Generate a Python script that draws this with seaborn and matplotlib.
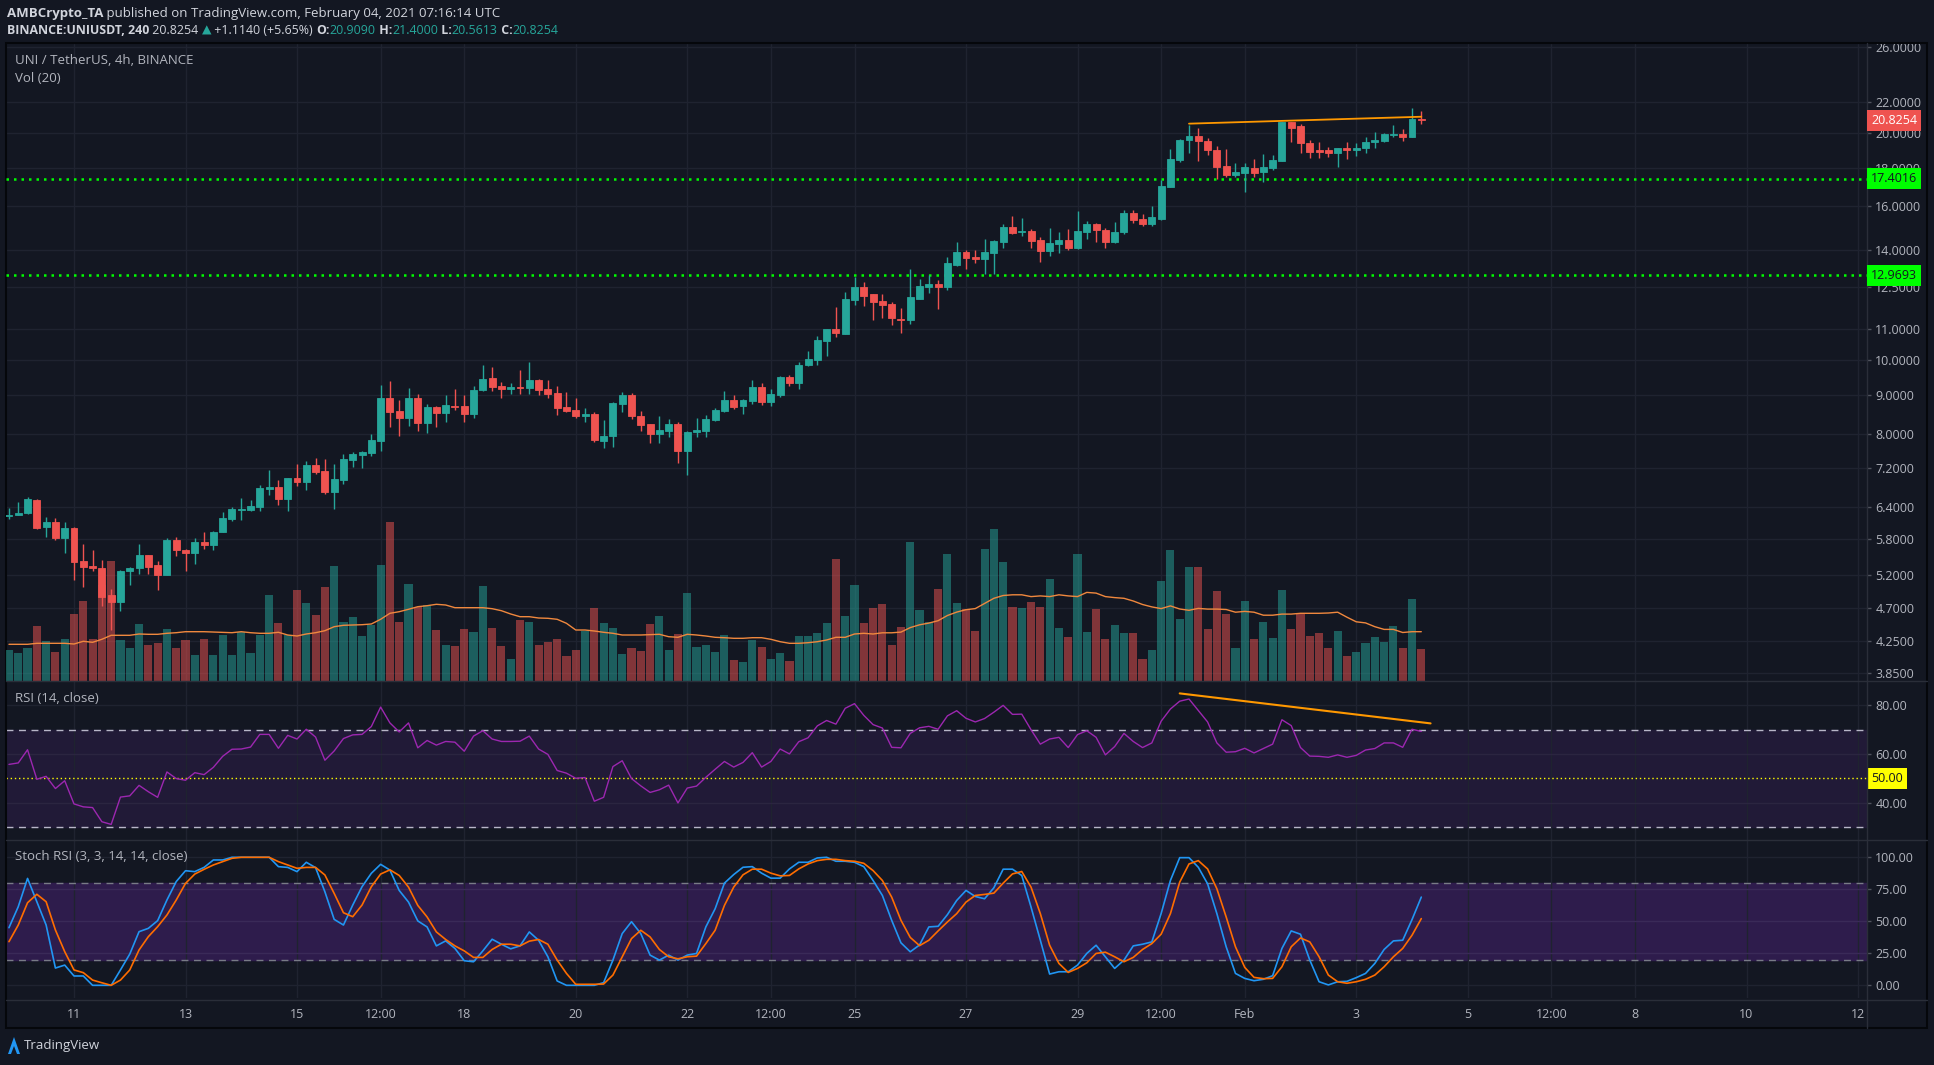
import matplotlib
matplotlib.use("Agg")
import matplotlib.pyplot as plt
import matplotlib.dates as mdates
import matplotlib.transforms as mtransforms
from matplotlib.patches import Rectangle, Polygon
from matplotlib.lines import Line2D
from matplotlib.ticker import NullLocator
import numpy as np
import pandas as pd
import seaborn as sns

# ---- data (4h candles, UNI/USDT) ----
start_time = "2021-01-09 20:00"

opens = [6.22, 6.24, 6.27, 6.53, 6.01, 6.11, 5.82, 6.00, 5.42, 5.34,
         5.31, 4.89, 4.78, 5.26, 5.30, 5.52, 5.36, 5.20, 5.78, 5.61,
         5.55, 5.75, 5.70, 5.92, 6.17, 6.34, 6.34, 6.40, 6.76, 6.80,
         6.56, 6.99, 6.89, 7.27, 7.14, 6.70, 6.94, 7.38, 7.50, 7.55,
         7.83, 8.92, 8.57, 8.40, 8.92, 8.27, 8.68, 8.52, 8.70, 8.70,
         8.48, 9.14, 9.48, 9.25, 9.17, 9.22, 9.19, 9.42, 9.17, 9.06,
         8.68, 8.60, 8.44, 8.49, 7.82, 7.94, 8.76, 9.00, 8.44, 8.24,
         7.99, 8.06, 8.24, 7.59, 8.04, 8.06, 8.34, 8.57, 8.86, 8.70,
         8.84, 9.22, 8.81, 9.00, 9.51, 9.34, 9.86, 10.01, 10.61, 11.01,
         10.85, 12.03, 12.52, 12.23, 12.00, 11.89, 11.36, 11.33, 12.08, 12.50,
         12.64, 12.50, 13.39, 13.93, 13.71, 13.61, 13.86, 14.36, 15.03, 14.78,
         14.85, 14.45, 13.98, 14.27, 14.45, 14.09, 14.80, 15.17, 14.90, 14.36,
         14.80, 15.69, 15.41, 15.17, 15.41, 16.98, 18.45, 19.58, 19.85, 19.56,
         19.00, 18.10, 17.62, 17.72, 18.00, 17.78, 18.00, 18.40, 20.69, 20.47,
         19.43, 18.99, 18.99, 18.86, 19.10, 18.99, 19.10, 19.47, 19.55, 19.92,
         19.96, 19.80, 20.909]

highs = [6.37, 6.49, 6.59, 6.55, 6.20, 6.18, 6.11, 6.02, 5.71, 5.61,
         5.44, 4.98, 5.27, 5.33, 5.71, 5.52, 5.42, 5.81, 5.83, 5.62,
         5.81, 5.93, 5.94, 6.29, 6.39, 6.57, 6.53, 6.83, 7.16, 6.94,
         6.99, 7.29, 7.36, 7.43, 7.41, 7.30, 7.52, 7.56, 7.59, 7.99,
         9.28, 9.39, 8.86, 9.19, 9.03, 8.76, 8.70, 9.00, 9.17, 9.00,
         9.25, 9.87, 9.81, 9.37, 9.34, 9.71, 9.95, 9.45, 9.42, 9.25,
         9.08, 8.92, 8.65, 8.55, 8.34, 8.81, 9.08, 9.06, 8.57, 8.24,
         8.44, 8.36, 8.29, 8.06, 8.39, 8.47, 8.65, 9.11, 9.00, 8.89,
         9.42, 9.34, 9.17, 9.54, 9.57, 9.95, 10.29, 10.78, 11.01, 11.77,
         12.33, 12.91, 12.71, 12.25, 12.25, 11.96, 11.74, 13.22, 12.82, 12.98,
         12.80, 13.70, 14.36, 14.02, 14.00, 14.50, 14.43, 15.17, 15.53, 15.45,
         14.94, 14.57, 14.99, 14.80, 14.94, 15.78, 15.32, 15.22, 14.99, 15.27,
         15.83, 15.83, 15.64, 16.03, 17.35, 19.05, 19.68, 20.53, 20.31, 19.72,
         19.23, 19.07, 18.28, 18.25, 18.50, 18.78, 18.71, 20.69, 20.69, 20.59,
         19.61, 19.45, 19.17, 19.10, 19.45, 19.41, 19.79, 20.07, 20.01, 20.52,
         20.27, 21.61, 21.40]

lows = [6.16, 6.23, 6.25, 5.98, 5.84, 5.78, 5.55, 5.11, 5.01, 5.26,
        4.73, 4.39, 4.66, 5.04, 5.21, 5.21, 4.97, 5.20, 5.50, 5.26,
        5.38, 5.63, 5.61, 5.92, 6.12, 6.15, 6.32, 6.32, 6.63, 6.44,
        6.32, 6.81, 6.74, 7.07, 6.66, 6.36, 6.86, 7.23, 7.20, 7.46,
        7.59, 8.17, 7.95, 8.19, 8.07, 8.02, 8.17, 8.29, 8.60, 8.29,
        8.40, 9.11, 9.11, 8.92, 9.03, 9.03, 9.03, 9.00, 8.92, 8.46,
        8.55, 8.40, 8.29, 7.80, 7.66, 7.68, 8.55, 8.36, 8.06, 7.77,
        7.77, 7.92, 7.31, 7.05, 7.92, 7.92, 8.31, 8.55, 8.63, 8.49,
        8.76, 8.73, 8.70, 8.95, 9.25, 9.17, 9.83, 9.86, 10.13, 10.75,
        10.85, 11.85, 11.81, 11.32, 11.37, 11.13, 10.89, 11.17, 12.08, 12.29,
        11.71, 12.39, 13.35, 13.23, 13.45, 13.02, 13.02, 14.11, 14.71, 14.64,
        14.11, 13.51, 13.76, 13.88, 14.00, 14.06, 14.50, 14.36, 14.09, 14.31,
        14.72, 15.19, 15.08, 15.07, 15.36, 16.98, 18.31, 18.83, 18.40, 18.71,
        17.41, 17.48, 17.48, 16.72, 17.48, 17.25, 17.89, 18.40, 19.46, 18.86,
        18.55, 18.55, 18.61, 18.02, 18.50, 18.67, 18.86, 19.10, 19.47, 19.80,
        19.53, 19.80, 20.5613]

closes = [6.24, 6.27, 6.55, 6.00, 6.11, 5.82, 6.00, 5.41, 5.33, 5.30,
          4.86, 4.78, 5.26, 5.30, 5.52, 5.33, 5.20, 5.78, 5.60, 5.55,
          5.75, 5.70, 5.93, 6.18, 6.35, 6.35, 6.41, 6.78, 6.80, 6.56,
          6.99, 6.89, 7.27, 7.12, 6.70, 6.96, 7.40, 7.52, 7.56, 7.85,
          8.92, 8.55, 8.40, 8.92, 8.27, 8.68, 8.52, 8.73, 8.68, 8.48,
          9.14, 9.45, 9.22, 9.17, 9.22, 9.19, 9.42, 9.14, 9.03, 8.65,
          8.57, 8.44, 8.49, 7.85, 7.94, 8.78, 9.00, 8.44, 8.21, 7.99,
          8.09, 8.24, 7.59, 8.04, 8.09, 8.36, 8.60, 8.86, 8.68, 8.86,
          9.22, 8.81, 9.03, 9.51, 9.34, 9.86, 10.04, 10.65, 11.01, 10.88,
          12.07, 12.52, 12.18, 11.96, 11.85, 11.37, 11.33, 12.14, 12.56, 12.64,
          12.50, 13.46, 13.93, 13.68, 13.61, 13.93, 14.40, 15.03, 14.76, 14.85,
          14.40, 13.98, 14.31, 14.45, 14.09, 14.85, 15.17, 14.90, 14.36, 14.80,
          15.69, 15.36, 15.17, 15.50, 17.04, 18.48, 19.61, 19.85, 19.53, 18.99,
          18.06, 17.62, 17.78, 18.06, 17.72, 18.06, 18.42, 20.69, 20.31, 19.43,
          18.92, 18.92, 18.86, 19.10, 18.99, 19.10, 19.48, 19.59, 19.94, 19.96,
          19.75, 20.90, 20.8254]

# volume in arbitrary units (bar height)
volume = [31, 28, 33, 55, 40, 29, 42, 67, 80, 42,
          96, 120, 41, 33, 57, 36, 38, 52, 33, 41,
          26, 42, 26, 46, 26, 49, 28, 46, 86, 58,
          46, 91, 78, 66, 94, 115, 59, 64, 45, 56,
          116, 159, 59, 97, 74, 76, 51, 36, 35, 52,
          49, 95, 53, 35, 22, 61, 59, 36, 39, 42,
          25, 31, 50, 73, 58, 53, 27, 33, 30, 57,
          65, 31, 47, 88, 34, 36, 29, 46, 21, 19,
          41, 34, 22, 28, 20, 45, 45, 48, 58, 122,
          65, 96, 58, 73, 77, 36, 54, 139, 71, 59,
          92, 127, 78, 72, 50, 132, 152, 119, 74, 73,
          79, 74, 102, 53, 44, 127, 49, 72, 42, 56,
          48, 48, 22, 31, 100, 131, 62, 114, 114, 52,
          90, 67, 33, 80, 42, 59, 43, 91, 52, 68,
          45, 48, 33, 50, 25, 29, 38, 44, 39, 55,
          33, 82, 32]

volume_ma = [36.7, 36.7, 36.7, 37.7, 37.7, 37.7, 37.7, 37.0, 39.7, 38.7,
             41.7, 45.7, 45.7, 45.7, 47.0, 46.7, 46.7, 47.7, 48.3, 49.3,
             49.3, 49.3, 49.0, 48.7, 48.3, 49.3, 48.3, 47.7, 47.7, 48.7,
             46.0, 45.0, 47.0, 48.3, 50.3, 54.3, 55.7, 56.0, 56.3, 57.0,
             61.7, 67.7, 69.3, 71.7, 74.3, 75.3, 76.7, 76.0, 73.3, 73.3,
             73.3, 73.3, 72.3, 70.3, 67.0, 64.3, 64.3, 63.0, 62.7, 61.7,
             57.7, 51.0, 51.0, 50.0, 48.7, 47.7, 46.0, 46.0, 46.0, 46.3,
             46.7, 44.3, 43.7, 46.7, 46.0, 45.0, 43.7, 43.3, 42.7, 42.7,
             43.3, 43.3, 41.7, 39.3, 37.7, 37.7, 38.3, 39.3, 41.0, 43.7,
             43.7, 47.0, 47.7, 47.0, 48.2, 48.2, 48.9, 53.4, 56.2, 57.9,
             60.3, 65.5, 68.9, 71.3, 72.4, 77.6, 82.7, 85.5, 86.2, 86.2,
             84.4, 85.1, 84.4, 86.2, 85.1, 84.4, 88.6, 87.9, 84.4, 83.4,
             82.7, 80.0, 76.5, 74.1, 72.4, 75.1, 72.0, 70.7, 72.6, 71.9,
             71.9, 71.5, 68.8, 69.6, 68.8, 65.8, 65.8, 66.9, 66.9, 67.7,
             67.7, 67.7, 68.0, 68.8, 63.8, 59.2, 58.1, 54.3, 51.6, 51.6,
             48.5, 49.3, 49.3]

rsi = [55.7, 56.3, 61.7, 49.6, 50.8, 45.8, 49.0, 39.5, 38.3, 38.0,
       32.2, 31.1, 42.3, 42.8, 47.1, 44.5, 42.2, 52.6, 49.9, 49.2,
       52.3, 51.5, 54.5, 59.0, 61.9, 62.0, 62.8, 68.0, 68.0, 62.3,
       67.6, 66.1, 70.1, 66.9, 57.4, 61.2, 66.3, 67.8, 68.0, 71.2,
       79.2, 72.7, 69.0, 72.7, 62.5, 65.5, 63.6, 65.1, 64.8, 61.1,
       67.3, 69.5, 66.1, 65.1, 65.1, 65.2, 67.3, 62.0, 59.8, 53.2,
       52.1, 50.0, 50.3, 40.6, 42.2, 54.8, 57.2, 49.9, 46.9, 44.2,
       45.3, 47.2, 39.9, 46.0, 46.8, 50.4, 53.7, 56.9, 54.6, 56.5,
       60.5, 54.6, 56.9, 62.0, 60.0, 65.0, 66.6, 71.5, 73.7, 72.2,
       78.7, 80.6, 75.8, 72.0, 70.6, 62.7, 62.5, 68.4, 70.7, 71.3,
       70.1, 75.6, 77.7, 74.6, 73.1, 74.5, 77.1, 79.9, 76.2, 76.3,
       69.9, 64.0, 66.1, 66.8, 62.6, 67.9, 69.5, 66.8, 59.6, 63.0,
       68.4, 65.1, 62.6, 64.5, 73.4, 78.4, 81.6, 82.5, 77.8, 73.1,
       64.5, 60.7, 60.9, 62.3, 60.4, 62.2, 64.0, 74.0, 71.6, 62.6,
       59.1, 59.0, 58.6, 59.6, 58.6, 59.4, 61.6, 62.2, 64.5, 64.5,
       62.7, 70.1, 69.2]

stoch_k = [45.0, 61.4, 83.5, 65.3, 47.1, 13.5, 15.8, 7.3, 7.3, 0.0,
           0.0, 0.0, 12.0, 24.4, 41.9, 44.5, 50.5, 66.6, 81.0, 89.5,
           88.8, 92.1, 97.9, 97.9, 100.0, 100.0, 100.0, 100.0, 100.0, 92.7,
           92.1, 88.8, 96.1, 91.9, 73.1, 51.5, 47.1, 62.7, 77.0, 87.5,
           94.5, 90.0, 74.1, 65.0, 50.3, 45.6, 30.8, 34.7, 28.8, 19.2,
           18.4, 26.9, 36.0, 32.1, 28.5, 30.8, 41.7, 35.2, 22.3, 3.4,
           0.0, 0.0, 0.0, 0.0, 2.1, 19.7, 40.4, 49.7, 40.4, 23.6,
           19.7, 23.6, 19.7, 23.6, 24.9, 45.6, 59.8, 79.8, 86.5, 92.2,
           92.7, 87.6, 83.7, 83.7, 90.9, 96.1, 96.1, 99.5, 100.0, 96.9,
           96.9, 96.1, 92.7, 81.9, 70.2, 50.8, 33.2, 26.2, 31.5, 45.6,
           46.1, 55.2, 66.3, 74.1, 69.4, 67.6, 76.2, 90.7, 90.7, 85.8,
           61.1, 35.2, 8.8, 10.6, 10.6, 15.8, 24.9, 31.3, 22.3, 13.2,
           19.7, 30.8, 32.1, 33.9, 56.0, 81.9, 99.7, 99.7, 92.2, 79.3,
           56.0, 30.1, 9.3, 5.4, 3.6, 4.7, 7.5, 28.8, 42.5, 39.9,
           19.7, 2.8, 0.3, 2.8, 3.1, 6.0, 9.3, 17.1, 28.0, 34.7,
           35.2, 51.3, 68.9]

stoch_d = [34.1, 47.1, 64.5, 71.1, 65.3, 43.2, 26.3, 12.0, 9.9, 4.1,
           2.0, 0.0, 4.1, 12.0, 27.6, 38.0, 45.8, 54.9, 66.6, 79.6,
           86.9, 90.6, 94.0, 96.6, 99.2, 100.0, 100.0, 100.0, 100.0, 96.6,
           94.0, 91.4, 92.1, 92.1, 86.2, 71.8, 56.7, 53.6, 62.7, 77.0,
           86.9, 90.2, 85.8, 76.7, 62.4, 53.4, 41.7, 35.8, 30.8, 26.9,
           21.8, 21.8, 28.0, 32.1, 32.1, 30.8, 34.5, 35.8, 32.1, 19.7,
           9.3, 0.8, 0.8, 0.8, 1.0, 8.0, 22.3, 36.5, 43.0, 37.8,
           28.0, 22.3, 20.7, 22.3, 22.8, 32.6, 43.0, 62.4, 76.7, 86.3,
           90.7, 90.7, 87.6, 85.5, 85.8, 90.9, 94.8, 97.4, 98.4, 98.4,
           97.4, 96.9, 95.3, 89.6, 81.9, 68.9, 50.8, 37.4, 31.0, 35.2,
           42.5, 49.5, 56.0, 65.0, 70.2, 71.0, 72.0, 79.8, 87.0, 88.9,
           76.7, 56.0, 31.3, 17.1, 10.1, 13.2, 17.6, 24.9, 25.9, 22.3,
           18.4, 21.8, 28.0, 32.6, 39.9, 56.0, 80.6, 94.8, 97.4, 90.9,
           75.4, 53.4, 30.1, 14.0, 6.2, 5.2, 5.4, 14.5, 30.1, 37.0,
           33.9, 22.3, 8.0, 2.8, 1.6, 2.8, 4.7, 8.0, 14.5, 22.3,
           28.8, 39.1, 52.1]

price_ticks = [3.85, 4.25, 4.7, 5.2, 5.8, 6.4, 7.2, 8.0, 9.0, 10.0, 11.0,
               12.5, 14.0, 16.0, 18.0, 20.0, 22.0, 26.0]
support_levels = [17.4016, 12.9693]
last_price = 20.8254
price_trend_times = ["2021-01-31 00:00", "2021-02-04 04:00"]
price_trend_values = [20.60, 21.04]
rsi_trend_times = ["2021-01-30 20:00", "2021-02-04 08:00"]
rsi_trend_values = [84.8, 72.5]
time_ticks = ["2021-01-11 00:00", "2021-01-13 00:00", "2021-01-15 00:00",
              "2021-01-16 12:00", "2021-01-18 00:00", "2021-01-20 00:00",
              "2021-01-22 00:00", "2021-01-23 12:00", "2021-01-25 00:00",
              "2021-01-27 00:00", "2021-01-29 00:00", "2021-01-30 12:00",
              "2021-02-01 00:00", "2021-02-03 00:00", "2021-02-05 00:00",
              "2021-02-06 12:00", "2021-02-08 00:00", "2021-02-10 00:00",
              "2021-02-12 00:00"]
time_labels = ["11", "13", "15", "12:00", "18", "20", "22", "12:00", "25",
               "27", "29", "12:00", "Feb", "3", "5", "12:00", "8", "10", "12"]

# ---- style ----
BG = "#131722"
GRID = "#1f2330"
SEP = "#2a2e39"
TEXT = "#b2b5be"
HEAD = "#d1d4dc"
UP = "#26a69a"
DOWN = "#ef5350"

sns.set_style("dark")
plt.rcParams["font.family"] = ["Open Sans", "DejaVu Sans"]

W, H = 1934, 1065
fig = plt.figure(figsize=(W / 100, H / 100), dpi=100, facecolor=BG)


def rect(x0, y0, x1, y1):
    return [x0 / W, 1 - y1 / H, (x1 - x0) / W, (y1 - y0) / H]


PL, PR = 6, 1867
PT, P1, P2, PB = 44, 681, 840, 998

times = pd.date_range(start_time, periods=len(closes), freq="4h")
x = mdates.date2num(times)
day11 = mdates.date2num(pd.Timestamp("2021-01-11"))
px_day = 55.75
xlim = (day11 + (PL - 74) / px_day, day11 + (PR - 74) / px_day)
tick_x = mdates.date2num(pd.to_datetime(time_ticks, format="%Y-%m-%d %H:%M"))

ax_bg = fig.add_axes(rect(PL, PT, PR, P1))
ax_vol = ax_bg.twinx()
ax_c = ax_bg.twinx()
ax_rsi = fig.add_axes(rect(PL, P1, PR, P2))
ax_st = fig.add_axes(rect(PL, P2, PR, PB))

for ax in (ax_bg, ax_vol, ax_c, ax_rsi, ax_st):
    for s in ax.spines.values():
        s.set_visible(False)
    ax.set_xlim(xlim)
    ax.grid(False)
for ax in (ax_bg, ax_rsi, ax_st):
    ax.set_facecolor(BG)
for t in tick_x:
    ax_bg.axvline(t, color=GRID, lw=1, zorder=0)

ax_bg.set_zorder(0)
ax_vol.set_zorder(1)
ax_c.set_zorder(2)

# price scale
lo_p, hi_p = 3.759, 26.27
for ax in (ax_bg, ax_c):
    ax.set_yscale("log")
    ax.set_ylim(lo_p, hi_p)
    ax.yaxis.set_minor_locator(NullLocator())
ax_bg.yaxis.tick_right()
ax_bg.set_yticks(price_ticks)
ax_bg.set_yticklabels([f"{p:.4f}" for p in price_ticks])
for p in price_ticks:
    ax_bg.axhline(p, color=GRID, lw=1, zorder=0)
ax_c.yaxis.set_major_locator(NullLocator())
ax_c.tick_params(right=False, labelright=False, bottom=False, labelbottom=False)
ax_vol.set_yticks([])
ax_vol.tick_params(right=False, labelright=False)

for ax in (ax_bg, ax_rsi, ax_st):
    ax.tick_params(axis="y", colors=TEXT, labelsize=9, length=3, width=1,
                   pad=3, left=False, labelleft=False, right=True,
                   labelright=True)
    ax.tick_params(axis="y", color="#50535e")
    ax.tick_params(axis="x", bottom=False, labelbottom=False)

# volume
colors = [UP if c >= o else DOWN for o, c in zip(opens, closes)]
ax_vol.bar(x, volume, width=0.145, color=colors, alpha=0.5, linewidth=0)
ax_vol.set_ylim(0, P1 - PT)
vol_df = pd.DataFrame({"t": x, "ma": volume_ma})
sns.lineplot(data=vol_df, x="t", y="ma", ax=ax_vol, color="#f0883e", lw=1)
ax_vol.set_xlim(xlim)
ax_vol.set_xlabel("")
ax_vol.set_ylabel("")

# candles
ax_c.vlines(x, lows, highs, colors=colors, lw=1, zorder=3)
bottoms = np.minimum(opens, closes)
heights = np.abs(np.array(closes) - np.array(opens))
ax_c.bar(x, heights, bottom=bottoms, width=0.125, color=colors,
         edgecolor=colors, linewidth=0.6, zorder=4)
for lvl in support_levels:
    ax_c.axhline(lvl, color="#00ff00", lw=1.8, ls=(0, (1, 2)), zorder=2)
ax_c.plot(mdates.date2num(pd.to_datetime(price_trend_times)),
          price_trend_values, color="#ff9800", lw=1.3, zorder=5)
ax_c.set_xlim(xlim)

lbl_x = (1871 - PL) / (PR - PL)
trans_c = mtransforms.blended_transform_factory(ax_c.transAxes, ax_c.transData)
for lvl in support_levels:
    ax_c.text(lbl_x, lvl, f"{lvl:.4f}", transform=trans_c, ha="left",
              va="center", color="#131722", fontsize=9, clip_on=False,
              zorder=10, bbox=dict(boxstyle="square,pad=0.32", fc="#00ff00",
                                   ec="none"))
ax_c.text(lbl_x, last_price, f"{last_price:.4f}", transform=trans_c,
          ha="left", va="center", color="white", fontsize=9, clip_on=False,
          zorder=10, bbox=dict(boxstyle="square,pad=0.32", fc=DOWN, ec="none"))

# RSI
r_lo, r_hi = 24.71, 89.88
ax_rsi.set_ylim(r_lo, r_hi)
ax_rsi.axhspan(30, 70, color="#211a37", zorder=0)
for t in tick_x:
    ax_rsi.axvline(t, color=GRID, lw=1, zorder=0.2)
for v in (40, 60, 80):
    ax_rsi.axhline(v, color="#2b2540" if v < 70 else GRID, lw=1, zorder=0.6)
ax_rsi.axhline(70, color="#b8b6c8", lw=1, ls=(0, (5, 4)), zorder=1)
ax_rsi.axhline(30, color="#b8b6c8", lw=1, ls=(0, (5, 4)), zorder=1)
ax_rsi.axhline(50, color="#ffff00", lw=1, ls=(0, (1, 2)), zorder=1)
rsi_df = pd.DataFrame({"t": x, "rsi": rsi})
sns.lineplot(data=rsi_df, x="t", y="rsi", ax=ax_rsi, color="#9c27b0", lw=1)
ax_rsi.plot(mdates.date2num(pd.to_datetime(rsi_trend_times)), rsi_trend_values,
            color="#ff9800", lw=1.5, zorder=5)
ax_rsi.set_xlim(xlim)
ax_rsi.set_yticks([40, 60, 80])
ax_rsi.set_yticklabels(["40.00", "60.00", "80.00"])
ax_rsi.set_xlabel("")
ax_rsi.set_ylabel("")
trans_r = mtransforms.blended_transform_factory(ax_rsi.transAxes, ax_rsi.transData)
ax_rsi.text(lbl_x, 50, "50.00", transform=trans_r, ha="left", va="center",
            color="#131722", fontsize=9, clip_on=False, zorder=10,
            bbox=dict(boxstyle="square,pad=0.32", fc="#ffff00", ec="none"))

# Stoch RSI
ax_st.set_ylim(-9.9, 113.5)
ax_st.axhspan(20, 80, color="#2e1c4c", zorder=0)
for t in tick_x:
    ax_st.axvline(t, color=GRID, lw=1, zorder=0.2)
for v in (0, 25, 50, 75, 100):
    ax_st.axhline(v, color=GRID if v in (0, 100) else "#3a2a58", lw=1,
                  zorder=0.6)
ax_st.axhline(80, color="#787b86", lw=1, ls=(0, (5, 4)), zorder=1)
ax_st.axhline(20, color="#787b86", lw=1, ls=(0, (5, 4)), zorder=1)
st_df = pd.DataFrame({"t": x, "k": stoch_k, "d": stoch_d})
sns.lineplot(data=st_df, x="t", y="k", ax=ax_st, color="#2196f3", lw=1.2)
sns.lineplot(data=st_df, x="t", y="d", ax=ax_st, color="#ff6d00", lw=1.2)
ax_st.set_xlim(xlim)
ax_st.set_yticks([0, 25, 50, 75, 100])
ax_st.set_yticklabels(["0.00", "25.00", "50.00", "75.00", "100.00"])
ax_st.set_xticks(tick_x)
ax_st.set_xticklabels(time_labels)
ax_st.tick_params(axis="x", bottom=True, labelbottom=True, length=0, pad=7,
                  colors=TEXT, labelsize=9)
ax_st.set_xlabel("")
ax_st.set_ylabel("")

# frame and separators
fig.add_artist(Line2D([PL / W, 1927 / W], [1 - P1 / H] * 2, color=SEP, lw=1))
fig.add_artist(Line2D([PL / W, 1927 / W], [1 - P2 / H] * 2, color=SEP, lw=1))
fig.add_artist(Line2D([PL / W, 1927 / W], [1 - (PB + 2) / H] * 2, color=SEP, lw=1))
fig.add_artist(Line2D([PR / W] * 2, [1 - 43 / H, 1 - 1028 / H], color=SEP, lw=1))
fig.add_artist(Rectangle((PL / W, 1 - 1028 / H), (1927 - PL) / W,
                         (1028 - 43) / H, fill=False, ec="#05070b", lw=1.5))

# texts
renderer = fig.canvas.get_renderer()


def chain(x_px, y_px, pieces, size=9.5, end_px=None):
    # write the pieces one after another; if end_px is given, scale the
    # font so the whole line ends there
    if end_px is not None:
        total = 0
        for s, color, weight in pieces:
            t = fig.text(0, 0, s, fontsize=size, fontweight=weight)
            total += t.get_window_extent(renderer=renderer).width
            t.remove()
        size = size * (end_px - x_px) / total
    for s, color, weight in pieces:
        t = fig.text(x_px / W, 1 - y_px / H, s, color=color, fontsize=size,
                     fontweight=weight, va="center", ha="left")
        x_px += t.get_window_extent(renderer=renderer).width


chain(7, 13, [("AMBCrypto_TA", HEAD, "bold"),
              (" published on TradingView.com, February 04, 2021 07:16:14 UTC",
               HEAD, "normal")])
chain(7, 30, [("BINANCE:UNIUSDT, 240", HEAD, "bold"),
              (" 20.8254 ", HEAD, "normal"), ("\u25b2", UP, "normal"),
              (" +1.1140 (+5.65%) ", HEAD, "normal"),
              ("O:", HEAD, "bold"), ("20.9090", UP, "normal"),
              (" H:", HEAD, "bold"), ("21.4000", UP, "normal"),
              (" L:", HEAD, "bold"), ("20.5613", UP, "normal"),
              (" C:", HEAD, "bold"), ("20.8254", UP, "normal")],
      end_px=562)
chain(15, 61, [("UNI / TetherUS, 4h, BINANCE", TEXT, "normal")])
chain(15, 78, [("Vol (20)", TEXT, "normal")])
chain(15, 698, [("RSI (14, close)", TEXT, "normal")])
chain(15, 857, [("Stoch RSI (3, 3, 14, 14, close)", TEXT, "normal")])

# TradingView logo
fig.add_artist(Polygon([(8 / W, 1 - 1054 / H), (14 / W, 1 - 1037 / H),
                        (20 / W, 1 - 1054 / H), (17 / W, 1 - 1054 / H),
                        (14 / W, 1 - 1046 / H), (11 / W, 1 - 1054 / H)],
                       closed=True, fc="#2196f3", ec="none"))
chain(24, 1046, [("TradingView", HEAD, "normal")], size=9.5)

fig.savefig("out.png", dpi=100, facecolor=BG)
